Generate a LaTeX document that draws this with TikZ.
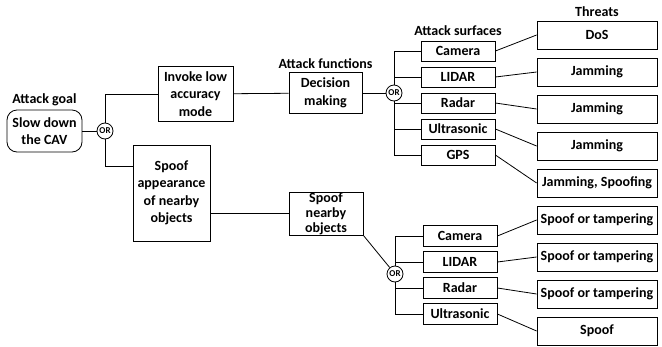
\documentclass[tikz,border=0pt]{standalone}
\usepackage{fontspec}
\setmainfont{Carlito}
\usepackage{tikz}
\usetikzlibrary{positioning, calc}

\begin{document}
\begin{tikzpicture}[x=1pt, y=-1pt, line width=0.8pt,
    font=\fontsize{14}{17.5}\selectfont\bfseries,
    blk/.style={draw, align=center, inner sep=1pt},
    surf/.style={blk, minimum width=74pt, minimum height=20pt},
    threat/.style={blk, minimum width=120pt, minimum height=28pt},
    gate/.style={draw, circle, inner sep=0pt, minimum size=16pt,
                 font=\fontsize{9}{9}\selectfont\bfseries},
    lbl/.style={inner sep=0pt}]
  \useasboundingbox (0,0) rectangle (662,346);

  % goal and first OR
  \node[blk, rounded corners=10pt, minimum width=75pt, minimum height=42pt] (goal) at (44.5,131) {Slow down\\the CAV};
  \node[lbl, above=3pt of goal] (goallbl) {Attack goal};
  \node[gate] (or1) at (105,131) {OR};

  \node[blk, minimum width=75pt, minimum height=55pt] (invoke) at (195.5,94) {Invoke low\\accuracy\\mode};
  \node[blk, minimum width=77pt, minimum height=96pt] (appear) at (171.5,193) {Spoof\\appearance\\of nearby\\objects};

  % attack functions
  \node[blk, minimum width=73pt, minimum height=41pt] (decision) at (325.5,93) {Decision\\making};
  \node[lbl, above=3pt of decision] (funclbl) {Attack functions};
  \node[blk, minimum width=74pt, minimum height=43pt, inner ysep=0pt,
        font=\fontsize{14}{15}\selectfont\bfseries] (spoofnear) at (326,213.5) {Spoof\\nearby\\objects};

  \node[gate] (or2) at (394,93) {OR};
  \node[gate] (or3) at (395,274) {OR};

  % attack surfaces, upper branch
  \node[surf] (cam1) at (458,51) {Camera};
  \node[surf, below=5.2pt of cam1] (lidar1) {LIDAR};
  \node[surf, below=5.2pt of lidar1] (radar1) {Radar};
  \node[surf, below=5.2pt of radar1] (us1) {Ultrasonic};
  \node[surf, below=5.2pt of us1] (gps1) {GPS};
  \node[lbl, above=5pt of cam1] (surflbl) {Attack surfaces};

  % attack surfaces, lower branch
  \node[surf, minimum height=21pt] (cam2) at (460,236) {Camera};
  \node[surf, minimum height=21pt, below=4.2pt of cam2] (lidar2) {LIDAR};
  \node[surf, minimum height=21pt, below=4.2pt of lidar2] (radar2) {Radar};
  \node[surf, minimum height=21pt, below=4.2pt of radar2] (us2) {Ultrasonic};

  % threats
  \node[threat] (dos) at (597,35) {DoS};
  \node[threat, below=8.2pt of dos] (jam1) {Jamming};
  \node[threat, below=8.2pt of jam1] (jam2) {Jamming};
  \node[threat, below=8.2pt of jam2] (jam3) {Jamming};
  \node[threat, below=8.2pt of jam3] (jamspoof) {Jamming, Spoofing};
  \node[threat, below=8.2pt of jamspoof] (tamp1) {Spoof or tampering};
  \node[threat, below=8.2pt of tamp1] (tamp2) {Spoof or tampering};
  \node[threat, below=8.2pt of tamp2] (tamp3) {Spoof or tampering};
  \node[threat, below=8.2pt of tamp3] (spoof) {Spoof};
  \node[lbl, above=4pt of dos] (threatlbl) {Threats};

  % connectors
  \draw (goal) -- (or1);
  \draw (or1) |- (invoke);
  \draw (or1) |- ([yshift=27pt]appear.west);
  \draw (invoke) -- (decision);
  \draw (decision) -- (or2);
  \draw (spoofnear -| appear.east) -- (spoofnear);
  \draw (spoofnear.south east) -- (or3);
  \foreach \s in {cam1, lidar1, radar1, us1, gps1}
    \draw (or2) |- (\s);
  \foreach \s in {cam2, lidar2, radar2, us2}
    \draw (or3) |- (\s);
  \foreach \a/\b in {cam1/dos, lidar1/jam1, radar1/jam2, us1/jam3, gps1/jamspoof,
                     cam2/tamp1, lidar2/tamp2, radar2/tamp3, us2/spoof}
    \draw (\a.east) -- (\b.west);
\end{tikzpicture}
\end{document}
